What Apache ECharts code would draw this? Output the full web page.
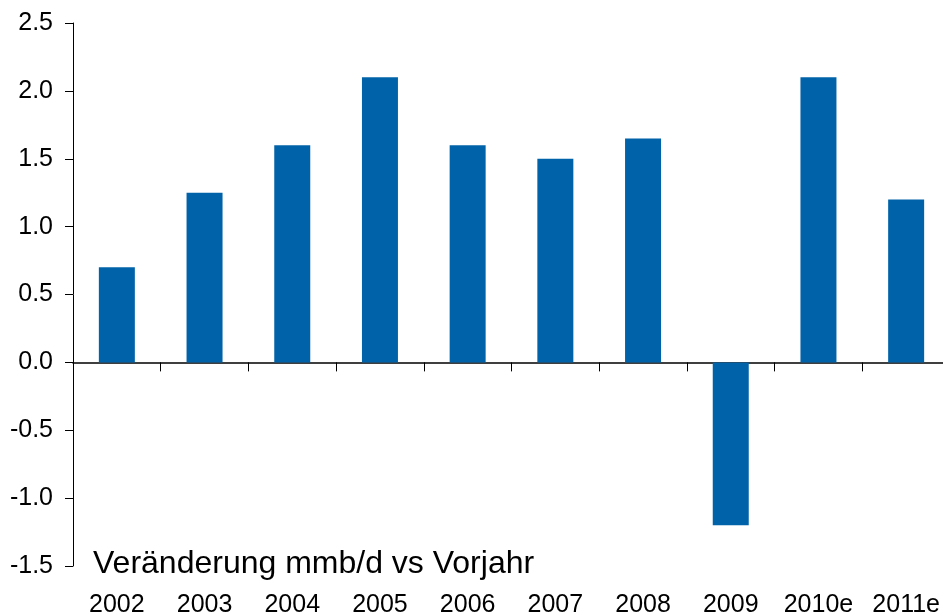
<!DOCTYPE html>
<html>
<head>
<meta charset="utf-8">
<script src="https://cdn.jsdelivr.net/npm/echarts@6/dist/echarts.min.js"></script>
<style>
  html, body { margin: 0; padding: 0; background: #fff; }
  #main { width: 943px; height: 616px; }
</style>
</head>
<body>
<div id="main"></div>
<script>
// Jahre und Veränderung (mmb/d vs Vorjahr)
var years = ['2002', '2003', '2004', '2005', '2006', '2007', '2008', '2009', '2010e', '2011e'];
var changes = [0.7, 1.25, 1.6, 2.1, 1.6, 1.5, 1.65, -1.2, 2.1, 1.2];
var yTicks = { min: -1.5, max: 2.5, step: 0.5 };

var chart = echarts.init(document.getElementById('main'));
var font = 'Liberation Sans, Arial, sans-serif';

chart.setOption({
    animation: false,
    grid: { left: 73, width: 877, top: 23, bottom: 50, outerBoundsMode: 'none', containLabel: false },
    xAxis: [
        {
            // Achse auf der Nulllinie, nur Striche
            type: 'category',
            data: years,
            axisLine: { onZero: true, lineStyle: { color: '#000', width: 1.5 } },
            axisTick: { show: true, length: 9, lineStyle: { color: '#000', width: 1 } },
            axisLabel: { show: false }
        },
        {
            // Beschriftung unten
            type: 'category',
            data: years,
            position: 'bottom',
            axisLine: { show: false, onZero: false },
            axisTick: { show: false },
            axisLabel: { color: '#000', fontSize: 25, fontFamily: font, margin: 27, interval: 0 }
        }
    ],
    yAxis: {
        type: 'value',
        min: yTicks.min,
        max: yTicks.max,
        interval: yTicks.step,
        axisLine: { show: true, lineStyle: { color: '#000', width: 1 } },
        axisTick: { show: true, length: 8, lineStyle: { color: '#000' } },
        splitLine: { show: false },
        axisLabel: {
            color: '#000', fontSize: 25, fontFamily: font, margin: 20,
            formatter: function (v) { return v.toFixed(1); }
        }
    },
    graphic: [{
        type: 'text',
        left: 93,
        top: 548,
        style: { text: 'Veränderung mmb/d vs Vorjahr', fill: '#000', font: '32px ' + font }
    }],
    series: [{
        type: 'bar',
        data: changes,
        barWidth: 36,
        itemStyle: { color: '#0063A9' }
    }]
});
</script>
</body>
</html>
